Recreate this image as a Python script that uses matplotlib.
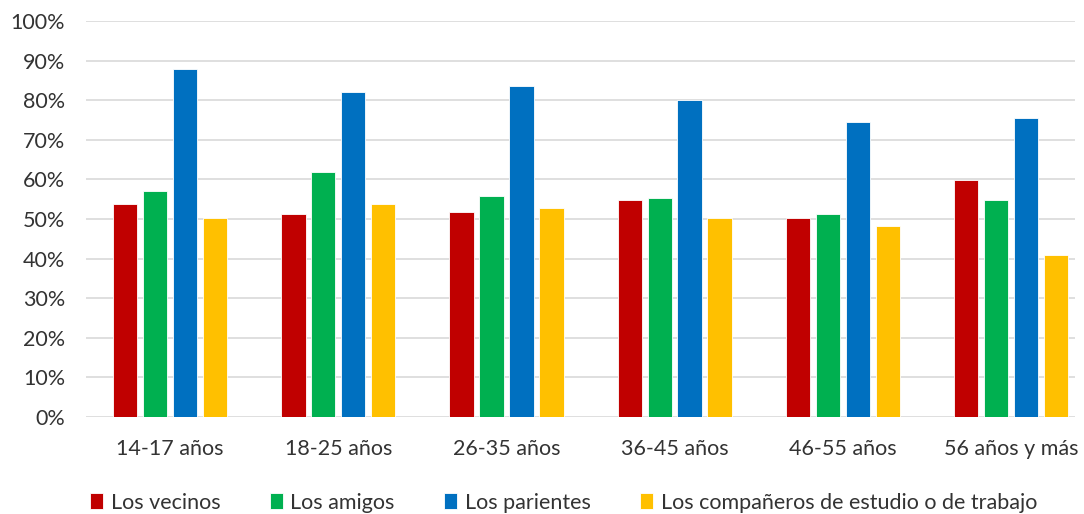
import matplotlib
matplotlib.use('Agg')
import matplotlib.pyplot as plt
import numpy as np

grupos = ['14-17 años', '18-25 años', '26-35 años', '36-45 años', '46-55 años', '56 años y más']
series = ['Los vecinos', 'Los amigos', 'Los parientes', 'Los compañeros de estudio o de trabajo']
vecinos = [53.7, 51.2, 51.8, 54.8, 50.2, 59.8]
amigos = [57.2, 61.8, 55.7, 55.2, 51.2, 54.7]
parientes = [88.0, 82.0, 83.6, 80.1, 74.4, 75.5]
companeros = [50.2, 53.7, 52.7, 50.2, 48.2, 41.0]
colores = ['#C00000', '#00B050', '#0070C0', '#FFC000']

plt.rcParams['font.family'] = ['Lato', 'DejaVu Sans']
texto = '#333333'

fig = plt.figure(figsize=(10.84, 5.14), dpi=100)
ax = fig.add_axes([0.0793, 0.1887, 0.9124, 0.7703])

x = np.arange(len(grupos))
paso = 0.178
ancho = 0.145
datos = [vecinos, amigos, parientes, companeros]
for i, (nombre, vals) in enumerate(zip(series, datos)):
    ax.bar(x + (i - 1.5) * paso, np.array(vals) / 100, width=ancho, color=colores[i],
           edgecolor='white', linewidth=0.6, label=nombre, zorder=3)

ax.set_xlim(-0.5, 5.38)
ax.set_ylim(0, 1)
ax.set_yticks(np.arange(0, 1.01, 0.1))
ax.set_yticklabels(['%d%%' % v for v in range(0, 101, 10)])
ax.set_xticks(x)
ax.set_xticklabels(grupos)
ax.grid(axis='y', color='#D9D9D9', linewidth=1.2, zorder=0)
for s in ax.spines.values():
    s.set_visible(False)
ax.tick_params(length=0, labelsize=15.5, colors=texto)
ax.tick_params(axis='x', pad=16)
ax.tick_params(axis='y', pad=15)

fig.legend(loc='lower center', bbox_to_anchor=(0.52, -0.035), ncol=4, frameon=False,
           fontsize=15.5, labelcolor=texto, handlelength=0.6, handleheight=0.75,
           handletextpad=0.35, columnspacing=2.3)

plt.savefig('out.png', dpi=100)
plt.close()
